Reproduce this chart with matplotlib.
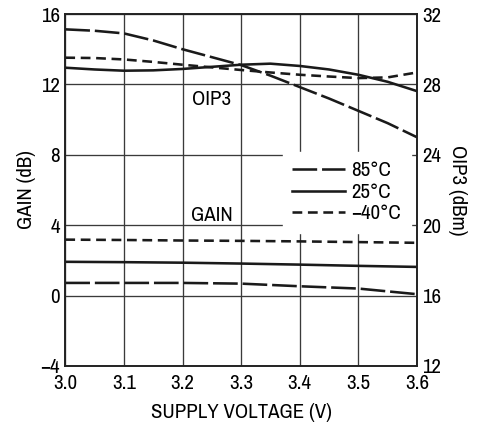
import matplotlib
matplotlib.use("Agg")
import matplotlib.pyplot as plt
from matplotlib.lines import Line2D

plt.rcParams['font.family'] = ['Archivo Narrow', 'DejaVu Sans']

# Data
v_oip = [3.0, 3.05, 3.1, 3.15, 3.2, 3.25, 3.3, 3.35, 3.4, 3.45, 3.5, 3.55, 3.6]
oip3_85 = [31.13, 31.05, 30.9, 30.5, 30.0, 29.55, 29.1, 28.5, 27.85, 27.2, 26.5, 25.8, 25.0]
oip3_25 = [28.95, 28.85, 28.78, 28.8, 28.88, 29.0, 29.12, 29.18, 29.05, 28.85, 28.55, 28.15, 27.62]
oip3_m40 = [29.52, 29.5, 29.42, 29.28, 29.12, 28.97, 28.82, 28.68, 28.55, 28.45, 28.36, 28.4, 28.68]

v_gain = [3.0, 3.1, 3.2, 3.3, 3.4, 3.5, 3.6]
gain_85 = [0.72, 0.72, 0.72, 0.68, 0.53, 0.40, 0.08]
gain_25 = [1.92, 1.90, 1.87, 1.82, 1.76, 1.69, 1.63]
gain_m40 = [3.18, 3.16, 3.13, 3.11, 3.08, 3.04, 3.00]

x_ticks = [3.0, 3.1, 3.2, 3.3, 3.4, 3.5, 3.6]
x_ticklabels = ["3.0", "3.1", "3.2", "3.3", "3.4", "3.5", "3.6"]
gain_ticks = [-4, 0, 4, 8, 12, 16]
oip_ticks = [12, 16, 20, 24, 28, 32]
legend_labels = ["85°C", "25°C", "\u221240°C"]

long_dash = (0, (9.6, 1.9))
short_dash = (0, (3.8, 2.2))
lw = 1.85

fig = plt.figure(figsize=(4.82, 4.23), dpi=100)
ax = fig.add_axes([0.1355, 0.1348, 0.7295, 0.832])
ax2 = ax.twinx()

ax.set_xlim(3.0, 3.6)
ax.set_ylim(-4, 16)
ax2.set_ylim(12, 32)

ax.set_xticks(x_ticks)
ax.set_xticklabels(x_ticklabels)
ax.set_yticks(gain_ticks)
ax.set_yticklabels([str(t).replace('-', '\u2212') for t in gain_ticks])
ax2.set_yticks(oip_ticks)

ax.grid(True, color='#3a3a3a', linewidth=0.95)
ax.set_axisbelow(True)
ax.tick_params(axis='y', length=0, labelsize=15, pad=4)
ax.tick_params(axis='x', length=0, labelsize=15, pad=6)
ax2.tick_params(length=0, labelsize=15, pad=4)

for a in (ax, ax2):
    for s in a.spines.values():
        s.set_linewidth(1.2)
        s.set_color('#222222')

c = '#1a1a1a'
ax2.plot(v_oip, oip3_85, color=c, lw=lw, linestyle=long_dash)
ax2.plot(v_oip, oip3_25, color=c, lw=lw, linestyle='-')
ax2.plot(v_oip, oip3_m40, color=c, lw=lw, linestyle=short_dash)

ax2.plot(v_gain, [g + 16 for g in gain_85], color=c, lw=lw, linestyle=long_dash)
ax2.plot(v_gain, [g + 16 for g in gain_25], color=c, lw=lw, linestyle='-')
ax2.plot(v_gain, [g + 16 for g in gain_m40], color=c, lw=lw, linestyle=short_dash)

ax.text(3.25, 11.15, "OIP3", fontsize=15, ha='center', va='center')
ax.text(3.25, 4.55, "GAIN", fontsize=15, ha='center', va='center')

ax.set_xlabel("SUPPLY VOLTAGE (V)", fontsize=15, labelpad=7)
ax.set_ylabel("GAIN (dB)", fontsize=15, labelpad=3)
ax2.set_ylabel("OIP3 (dBm)", fontsize=15, rotation=270, labelpad=18)

handles = [Line2D([], [], color=c, lw=lw, linestyle=long_dash),
           Line2D([], [], color=c, lw=lw, linestyle='-'),
           Line2D([], [], color=c, lw=lw, linestyle=short_dash)]
leg = ax2.legend(handles, legend_labels, loc='center',
                 bbox_to_anchor=(0.628, 0.381, 0.344, 0.224),
                 frameon=True, fancybox=False, framealpha=1.0,
                 edgecolor='white', facecolor='white', fontsize=15,
                 handlelength=2.55, handletextpad=0.3, labelspacing=0.12,
                 borderpad=0.45, borderaxespad=0.0)
leg.set_zorder(1.5)

fig.savefig("out.png", dpi=100)
